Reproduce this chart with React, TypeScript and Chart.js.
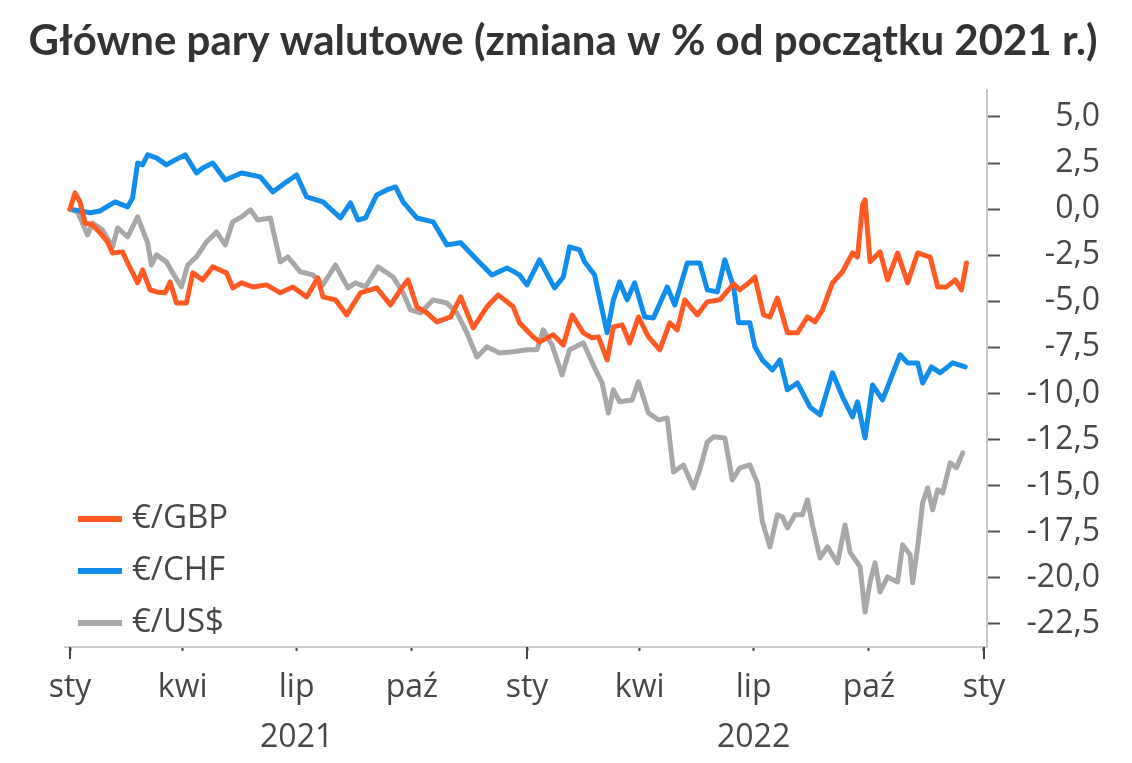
import React, { useEffect, useRef } from 'react';
import { Chart, registerables } from 'chart.js';

Chart.register(...registerables);

const TITLE = 'Główne pary walutowe (zmiana w % od początku 2021 r.)';
const SERIES_LABELS = ['€/GBP', '€/CHF', '€/US$'];
const SERIES_COLORS = ['#FF5A24', '#128DEB', '#A8A8A8'];

// x = days since 1 Jan 2021, y = % change since start of 2021
const gbpDays = [0,4,8,12,18,24,30,34,42,46,54,58,64,69,76,80,85,93,98,106,114,125,130,137,146,157,168,178,189,198,202,212,221,232,245,256,265,270,277,285,293,304,312,322,333,342,354,359,370,375,386,394,401,410,417,422,429,434,441,447,454,462,471,479,485,491,501,509,519,530,535,543,547,554,559,565,573,581,589,595,601,609,617,625,629,633,635,639,647,653,661,669,677,687,693,700,707,712,716];
const gbpValues = [0,0.88,0.39,-0.75,-0.86,-1.29,-1.78,-2.38,-2.32,-2.92,-4.0,-3.3,-4.38,-4.49,-4.54,-3.95,-5.09,-5.09,-3.46,-3.84,-3.13,-3.46,-4.27,-4.0,-4.22,-4.11,-4.54,-4.22,-4.76,-3.73,-4.76,-4.92,-5.74,-4.54,-4.27,-5.2,-4.27,-3.84,-5.3,-5.63,-6.12,-5.85,-4.76,-6.44,-5.3,-4.65,-5.3,-6.17,-6.93,-7.2,-6.82,-7.37,-5.74,-6.71,-6.98,-6.93,-8.18,-6.39,-6.28,-7.26,-5.85,-6.93,-7.63,-6.17,-6.55,-4.92,-5.74,-5.03,-4.92,-4.05,-4.38,-3.95,-3.68,-5.74,-5.85,-4.82,-6.71,-6.71,-5.85,-6.12,-5.47,-4.0,-3.4,-2.38,-2.6,0.23,0.5,-2.86,-2.32,-3.84,-2.38,-4.0,-2.38,-2.6,-4.22,-4.22,-3.84,-4.38,-2.92];

const chfDays = [0,16,24,32,36,42,46,50,54,58,62,69,77,84,92,97,101,106,114,124,137,152,162,173,181,189,202,216,224,230,236,245,253,260,266,277,290,301,312,325,337,349,359,365,375,387,394,399,407,411,419,425,429,434,439,445,451,459,466,477,483,493,503,509,517,523,530,534,543,547,553,561,567,573,581,591,599,609,617,625,629,635,641,649,663,669,677,681,688,695,705,715];
const chfValues = [0,-0.2,-0.1,0.23,0.39,0.23,0.12,0.61,2.5,2.4,2.94,2.78,2.4,2.67,2.94,2.4,1.96,2.23,2.5,1.58,1.96,1.75,0.93,1.48,1.85,0.66,0.39,-0.48,0.34,-0.59,-0.48,0.77,1.04,1.2,0.39,-0.48,-0.69,-1.94,-1.83,-2.75,-3.57,-3.19,-3.57,-4.11,-2.75,-4.27,-3.68,-2.05,-2.21,-2.86,-3.57,-5.47,-6.71,-4.92,-3.95,-4.92,-4.0,-5.85,-5.9,-4.22,-5.2,-2.92,-2.92,-4.38,-4.49,-2.75,-4.22,-6.17,-6.17,-7.47,-8.18,-8.72,-8.18,-9.8,-9.43,-10.73,-11.16,-8.88,-10.18,-11.27,-10.45,-12.41,-9.54,-10.35,-7.9,-8.34,-8.34,-9.43,-8.56,-8.88,-8.34,-8.56];

const usdDays = [0,6,14,18,26,34,38,46,54,62,65,69,77,82,89,94,101,109,117,124,130,137,144,150,160,168,174,184,194,202,212,222,228,236,246,258,266,272,280,290,301,309,317,325,333,343,354,365,373,378,385,393,399,410,419,425,430,434,439,449,454,462,470,477,482,490,498,503,509,514,523,529,535,543,549,553,559,565,569,573,579,585,589,593,599,605,613,619,623,631,635,639,643,647,653,661,665,671,673,677,681,685,689,693,697,703,708,713];
const usdValues = [0,-0.15,-1.4,-0.75,-1.13,-2.05,-1.02,-1.5,-0.42,-1.83,-3.03,-2.48,-2.86,-3.46,-4.22,-3.03,-2.59,-1.78,-1.24,-1.94,-0.69,-0.42,-0.04,-0.59,-0.48,-2.86,-2.59,-3.4,-3.57,-4.11,-3.03,-4.27,-4.0,-4.22,-3.13,-3.68,-4.54,-5.47,-5.63,-4.92,-5.09,-5.63,-6.71,-8.02,-7.47,-7.8,-7.74,-7.63,-7.63,-6.55,-7.37,-9.0,-7.63,-7.25,-8.61,-9.43,-11.06,-9.8,-10.45,-10.35,-9.37,-11.06,-11.43,-11.33,-14.26,-13.88,-15.12,-14.14,-12.63,-12.35,-12.41,-14.69,-14.03,-13.87,-14.85,-16.96,-18.32,-16.58,-16.69,-17.29,-16.58,-16.58,-15.77,-17.13,-18.92,-18.32,-19.19,-17.13,-18.6,-19.41,-21.85,-20.22,-19.19,-20.76,-19.95,-20.22,-18.21,-18.75,-20.27,-18.32,-15.93,-15.12,-16.31,-15.22,-15.39,-13.76,-14.03,-13.22];

const xTickDays = [0, 90, 181, 273, 365, 455, 546, 638, 730];
const xTickMonths = ['sty', 'kwi', 'lip', 'paź', 'sty', 'kwi', 'lip', 'paź', 'sty'];
const xTickYears = ['', '', '2021', '', '', '', '2022', '', ''];
const xTickMajor = [true, false, false, false, true, false, false, false, true];
const yTickValues = [5, 2.5, 0, -2.5, -5, -7.5, -10, -12.5, -15, -17.5, -20, -22.5];

const TEXT_FONT = "'Open Sans', 'DejaVu Sans', sans-serif";
const TITLE_FONT = "bold 42px Lato, 'Open Sans', sans-serif";
const TEXT_COLOR = '#474747';

export default function App() {
  const ref = useRef<HTMLCanvasElement | null>(null);

  useEffect(() => {
    document.body.style.margin = '0';
    const canvas = ref.current;
    if (!canvas) return;

    const toXY = (days: number[], vals: number[]) => days.map((d, i) => ({ x: d, y: vals[i] }));
    const seriesData = [toXY(gbpDays, gbpValues), toXY(chfDays, chfValues), toXY(usdDays, usdValues)];

    const titlePlugin = {
      id: 'pageTitle',
      afterDraw(chart: any) {
        const ctx = chart.ctx;
        ctx.save();
        ctx.fillStyle = '#333333';
        ctx.font = TITLE_FONT;
        ctx.textAlign = 'center';
        ctx.textBaseline = 'middle';
        ctx.fillText(TITLE, chart.width / 2 - 3, 41);
        ctx.restore();
      },
    };

    const legendPlugin = {
      id: 'insideLegend',
      afterDatasetsDraw(chart: any) {
        const ctx = chart.ctx;
        const left = chart.chartArea.left;
        const bottom = chart.chartArea.bottom;
        ctx.save();
        chart.data.datasets.forEach((ds: any, i: number) => {
          const y = bottom - 128 + i * 52;
          ctx.strokeStyle = ds.borderColor;
          ctx.lineWidth = 6;
          ctx.beginPath();
          ctx.moveTo(left + 13, y);
          ctx.lineTo(left + 57, y);
          ctx.stroke();
          ctx.fillStyle = TEXT_COLOR;
          ctx.font = `33px ${TEXT_FONT}`;
          ctx.textAlign = 'left';
          ctx.textBaseline = 'middle';
          ctx.fillText(ds.label, left + 67, y);
        });
        ctx.restore();
      },
    };

    const majorTickPlugin = {
      id: 'majorTicks',
      afterDraw(chart: any) {
        const sx = chart.scales.x;
        const ctx = chart.ctx;
        ctx.save();
        ctx.strokeStyle = '#444';
        ctx.lineWidth = 2;
        xTickDays.forEach((d, i) => {
          if (!xTickMajor[i]) return;
          const px = sx.getPixelForValue(d);
          ctx.beginPath();
          ctx.moveTo(px, sx.top);
          ctx.lineTo(px, sx.top + 12);
          ctx.stroke();
        });
        ctx.restore();
      },
    };

    const chart = new Chart(canvas, {
      type: 'line',
      data: {
        datasets: SERIES_LABELS.map((label, i) => ({
          label,
          data: seriesData[i],
          borderColor: SERIES_COLORS[i],
          backgroundColor: SERIES_COLORS[i],
          borderWidth: 5,
          pointRadius: 0,
          tension: 0,
          borderJoinStyle: 'round',
          borderCapStyle: 'round',
        })),
      },
      options: {
        animation: false,
        responsive: false,
        maintainAspectRatio: false,
        parsing: false as any,
        layout: { padding: { left: 65, right: 32, top: 90, bottom: 0 } },
        plugins: {
          legend: { display: false },
          tooltip: { enabled: false },
          title: { display: false },
        },
        scales: {
          x: {
            type: 'linear',
            min: -4,
            max: 732.4,
            afterBuildTicks: (scale: any) => {
              scale.ticks = xTickDays.map((v) => ({ value: v }));
            },
            afterFit: (scale: any) => {
              scale.height = 116;
            },
            border: { display: true, color: '#cccccc', width: 2 },
            grid: { drawOnChartArea: false, drawTicks: true, tickLength: 4, tickColor: '#444', tickWidth: 2 },
            ticks: {
              autoSkip: false,
              maxRotation: 0,
              padding: 12,
              color: TEXT_COLOR,
              font: { family: TEXT_FONT, size: 32, lineHeight: 1.55 },
              callback: (_v: any, i: number) =>
                xTickYears[i] ? [xTickMonths[i], xTickYears[i]] : xTickMonths[i],
            },
          },
          y: {
            type: 'linear',
            position: 'right',
            min: -23.75,
            max: 6.46,
            afterBuildTicks: (scale: any) => {
              scale.ticks = yTickValues.map((v) => ({ value: v }));
            },
            afterFit: (scale: any) => {
              scale.width = 113;
            },
            border: { display: true, color: '#cccccc', width: 2 },
            grid: { drawOnChartArea: false, drawTicks: true, tickLength: 13, tickColor: '#555', tickWidth: 2 },
            ticks: {
              crossAlign: 'far',
              padding: 25,
              color: TEXT_COLOR,
              font: { family: TEXT_FONT, size: 32 },
              callback: (v: any) => Number(v).toFixed(1).replace('.', ','),
            },
          },
        },
      } as any,
      plugins: [titlePlugin, legendPlugin, majorTickPlugin],
    });

    return () => chart.destroy();
  }, []);

  return (
    <div style={{ width: 1132, height: 763, position: 'relative', background: '#fff' }}>
      <canvas ref={ref} width={1132} height={763} style={{ display: 'block', width: 1132, height: 763 }} />
    </div>
  );
}
